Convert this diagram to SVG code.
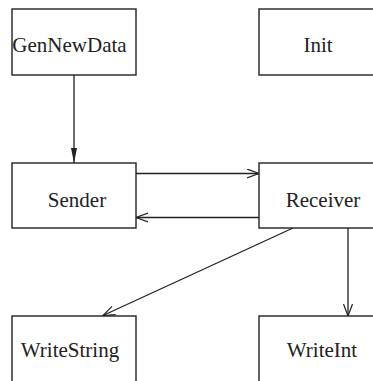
<svg xmlns="http://www.w3.org/2000/svg" width="373" height="381" viewBox="0 0 373 381">
<defs>
<marker id="filled" markerWidth="16" markerHeight="10" refX="15" refY="4" orient="auto" markerUnits="userSpaceOnUse">
<path d="M0,1 L15,4 L0,7 Z" fill="#222"/>
</marker>
<marker id="open" markerWidth="14" markerHeight="12" refX="12" refY="5" orient="auto" markerUnits="userSpaceOnUse">
<path d="M0,0.5 L12,5 L0,9.5" fill="none" stroke="#222" stroke-width="1.2"/>
</marker>
</defs>
<style>
.box{fill:#fff;stroke:#222;stroke-width:1.4}
.lbl{font-family:"Liberation Serif","Times New Roman",serif;font-size:21px;fill:#222;text-anchor:middle}
.edge{fill:none;stroke:#222;stroke-width:1.3}
</style>
<rect width="373" height="381" fill="#fff"/>
<g id="connectors">
<line class="edge" x1="74" y1="75" x2="74" y2="163" marker-end="url(#filled)"/>
<line class="edge" x1="136" y1="173.5" x2="259" y2="173.5" marker-end="url(#open)"/>
<line class="edge" x1="259" y1="217.5" x2="136" y2="217.5" marker-end="url(#open)"/>
<line class="edge" x1="293" y1="228" x2="103" y2="315.5" marker-end="url(#open)"/>
<line class="edge" x1="348" y1="228" x2="348" y2="316" marker-end="url(#open)"/>
</g>
<g id="GenNewData">
<rect class="box" x="12" y="9" width="124" height="66"/>
<text class="lbl" x="69.5" y="52">GenNewData</text>
</g>
<g id="Init">
<rect class="box" x="259" y="9" width="126" height="66"/>
<text class="lbl" x="318" y="52">Init</text>
</g>
<g id="Sender">
<rect class="box" x="12" y="163" width="124" height="65"/>
<text class="lbl" x="77" y="207">Sender</text>
</g>
<g id="Receiver">
<rect class="box" x="259" y="163" width="126" height="65"/>
<text class="lbl" x="323" y="207">Receiver</text>
</g>
<g id="WriteString">
<rect class="box" x="12" y="316" width="124" height="70"/>
<text class="lbl" x="70" y="357">WriteString</text>
</g>
<g id="WriteInt">
<rect class="box" x="259" y="316" width="126" height="70"/>
<text class="lbl" x="322" y="357">WriteInt</text>
</g>
</svg>
